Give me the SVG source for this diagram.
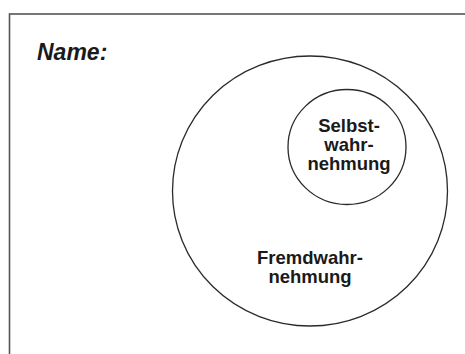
<svg xmlns="http://www.w3.org/2000/svg" width="465" height="354" viewBox="0 0 465 354">
<style>
.frame{fill:none;stroke:#555;stroke-width:1.6}
.ring{fill:none;stroke:#2a2a2a;stroke-width:1.3}
.lbl{font-family:"Liberation Sans",Arial,sans-serif;font-weight:bold;font-size:18.5px;fill:#1a1a1a;text-anchor:middle}
.title{font-family:"Liberation Sans",Arial,sans-serif;font-weight:bold;font-style:italic;font-size:23px;fill:#1a1a1a}
</style>
<rect width="465" height="354" fill="#fff"/>
<rect class="frame" x="9.5" y="14" width="470" height="360"/>
<text class="title" x="37" y="60">Name:</text>
<g id="fremdwahrnehmung">
<ellipse class="ring" cx="310" cy="191" rx="137.5" ry="135"/>
<text class="lbl" x="310" y="264">Fremdwahr-</text>
<text class="lbl" x="310" y="283">nehmung</text>
</g>
<g id="selbstwahrnehmung">
<ellipse class="ring" cx="347" cy="147" rx="59" ry="57.5"/>
<text class="lbl" x="349" y="132">Selbst-</text>
<text class="lbl" x="349" y="151">wahr-</text>
<text class="lbl" x="349" y="170">nehmung</text>
</g>
<g id="connectors"/>
</svg>
